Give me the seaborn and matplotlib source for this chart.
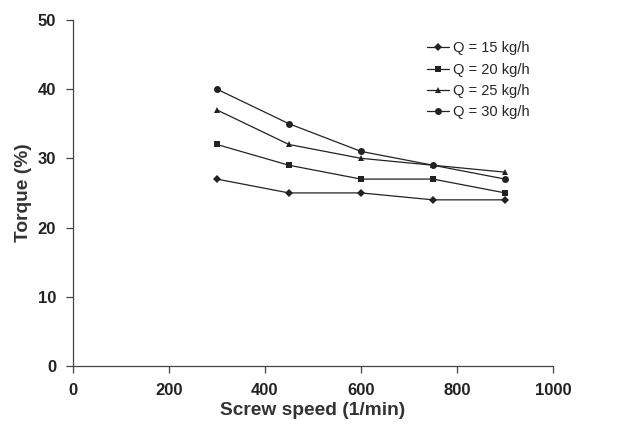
import pandas as pd
import matplotlib.pyplot as plt
import seaborn as sns

# screw speed (1/min) and torque (%) per throughput
speeds = [300, 450, 600, 750, 900]
q_labels = ["Q = 15 kg/h", "Q = 20 kg/h", "Q = 25 kg/h", "Q = 30 kg/h"]
torque_q15 = [27, 25, 25, 24, 24]
torque_q20 = [32, 29, 27, 27, 25]
torque_q25 = [37, 32, 30, 29, 28]
torque_q30 = [40, 35, 31, 29, 27]

rows = []
for lab, vals in zip(q_labels, [torque_q15, torque_q20, torque_q25, torque_q30]):
    for s, v in zip(speeds, vals):
        rows.append({"speed": s, "torque": v, "Q": lab})
df = pd.DataFrame(rows)

sns.set_theme(style="ticks")
plt.rcParams["font.family"] = ["Liberation Sans", "DejaVu Sans"]

fig = plt.figure(figsize=(6.38, 4.24), dpi=100)
ax = fig.add_axes([0.114, 0.137, 0.753, 0.816])

ax = sns.lineplot(
    data=df, x="speed", y="torque", hue="Q", style="Q",
    markers={q_labels[0]: "D", q_labels[1]: "s", q_labels[2]: "^", q_labels[3]: "o"},
    dashes=False,
    palette=["#222222"] * 4,
    linewidth=0.9, markersize=5, markeredgewidth=0,
    ax=ax,
)
# diamond a bit smaller
for ln in ax.lines:
    if ln.get_marker() == "D":
        ln.set_markersize(3.8)

ax.set_xlim(0, 1000)
ax.set_ylim(0, 50)
ax.set_xticks([0, 200, 400, 600, 800, 1000])
ax.set_yticks([0, 10, 20, 30, 40, 50])
ax.set_xlabel("Screw speed (1/min)", fontsize=13.8, fontweight="bold", color="#333333", labelpad=3.5)
ax.set_ylabel("Torque (%)", fontsize=13.8, fontweight="bold", color="#333333", labelpad=4)
for t in ax.get_xticklabels() + ax.get_yticklabels():
    t.set_fontweight("bold")
    t.set_fontsize(12)
    t.set_color("#222222")
ax.tick_params(length=5, width=0.9, color="#444444", pad=7)
sns.despine(ax=ax)
for sp in ["left", "bottom"]:
    ax.spines[sp].set_linewidth(0.9)
    ax.spines[sp].set_color("#444444")

leg = ax.legend(loc="upper left", bbox_to_anchor=(0.725, 0.955), frameon=False,
                fontsize=10.5, handlelength=1.5, handletextpad=0.3, labelspacing=0.5,
                borderaxespad=0)
for h in leg.legend_handles:
    h.set_color("#222222")

fig.savefig("out.png", dpi=100)
